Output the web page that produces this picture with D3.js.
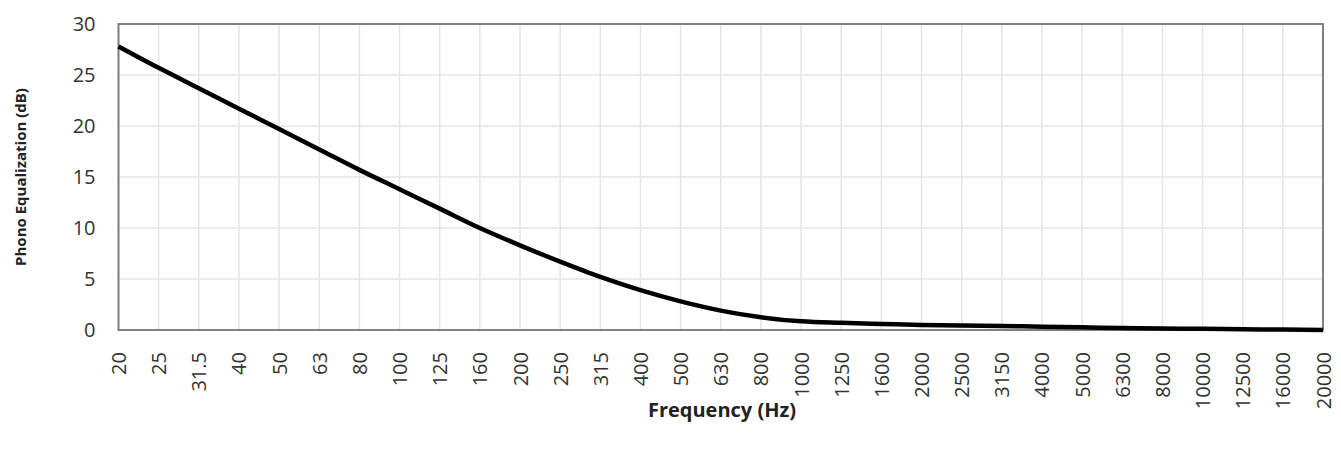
<!DOCTYPE html>
<html>
<head>
	<meta charset="utf-8">
	<title>phono eq</title>
	<script src="https://d3js.org/d3.v7.min.js"></script>
	<style>
		body {
			margin: 0;
			background: #fff;
		}
		text {
			font-family: 'Open Sans', 'Noto Sans', sans-serif;
		}
		.tick-label {
			fill: #333;
			font-size: 20px;
		}
		.axis-title {
			fill: #222;
			font-weight: bold;
		}
		.grid line {
			stroke: #e4e4e4;
			stroke-width: 1.5;
		}
		.frame {
			fill: none;
			stroke: #808080;
			stroke-width: 2;
		}
		.curve {
			fill: none;
			stroke: #000;
			stroke-width: 4.5;
		}
	</style>
</head>
<body>
<div id="chart"></div>
<script>
	// Third-octave centre frequencies (x categories).
	const frequencies = ['20', '25', '31.5', '40', '50', '63', '80', '100', '125', '160',
		'200', '250', '315', '400', '500', '630', '800', '1000', '1250', '1600',
		'2000', '2500', '3150', '4000', '5000', '6300', '8000', '10000', '12500', '16000', '20000'];

	// Phono equalization in dB.
	const equalization = [27.8, 25.7, 23.7, 21.7, 19.7, 17.7, 15.7, 13.8, 11.9, 10.0,
		8.3, 6.7, 5.2, 3.9, 2.8, 1.9, 1.25, 0.85, 0.7, 0.6,
		0.5, 0.45, 0.4, 0.32, 0.26, 0.2, 0.15, 0.12, 0.08, 0.04, 0.0];

	const yTicks = [0, 5, 10, 15, 20, 25, 30];

	const W = 1341, H = 450;
	const margin = {top: 24, right: 18, bottom: 120, left: 118.5};
	const width = W - margin.left - margin.right;
	const height = H - margin.top - margin.bottom;

	const svg = d3.select('#chart').append('svg')
		.attr('width', W)
		.attr('height', H);

	const g = svg.append('g')
		.attr('transform', 'translate(' + margin.left + ',' + margin.top + ')');

	const x = d3.scalePoint()
		.domain(frequencies)
		.range([0, width]);

	const y = d3.scaleLinear()
		.domain([0, 30])
		.range([height, 0]);

	// Gridlines.
	g.append('g')
		.attr('class', 'grid')
		.selectAll('line')
		.data(frequencies)
		.join('line')
			.attr('x1', d => x(d))
			.attr('x2', d => x(d))
			.attr('y1', 0)
			.attr('y2', height);

	g.append('g')
		.attr('class', 'grid')
		.selectAll('line')
		.data(yTicks)
		.join('line')
			.attr('x1', 0)
			.attr('x2', width)
			.attr('y1', d => y(d))
			.attr('y2', d => y(d));

	// Plot frame.
	g.append('rect')
		.attr('class', 'frame')
		.attr('x', 0)
		.attr('y', 0)
		.attr('width', width)
		.attr('height', height);

	// Y tick labels.
	const yAxis = g.append('g')
		.call(d3.axisLeft(y).tickValues(yTicks).tickSize(0).tickPadding(23));
	yAxis.select('.domain').remove();
	yAxis.selectAll('text')
		.attr('class', 'tick-label');

	// X tick labels, rotated.
	const xAxis = g.append('g')
		.attr('transform', 'translate(0,' + height + ')')
		.call(d3.axisBottom(x).tickSize(0));
	xAxis.select('.domain').remove();
	xAxis.selectAll('text')
		.attr('class', 'tick-label')
		.attr('transform', 'rotate(-90)')
		.attr('text-anchor', 'end')
		.attr('x', -22)
		.attr('y', 0)
		.attr('dy', '0.35em');

	// Curve.
	const line = d3.line()
		.x((d, i) => x(frequencies[i]))
		.y(d => y(d))
		.curve(d3.curveMonotoneX);

	g.append('path')
		.datum(equalization)
		.attr('class', 'curve')
		.attr('d', line);

	// Axis titles.
	svg.append('text')
		.attr('class', 'axis-title')
		.attr('x', 722)
		.attr('y', 417)
		.attr('font-size', 20)
		.attr('text-anchor', 'middle')
		.text('Frequency (Hz)');

	svg.append('text')
		.attr('class', 'axis-title')
		.attr('font-size', 15)
		.attr('transform', 'translate(26,' + (margin.top + height / 2) + ') rotate(-90)')
		.attr('text-anchor', 'middle')
		.text('Phono Equalization (dB)');
</script>
</body>
</html>
